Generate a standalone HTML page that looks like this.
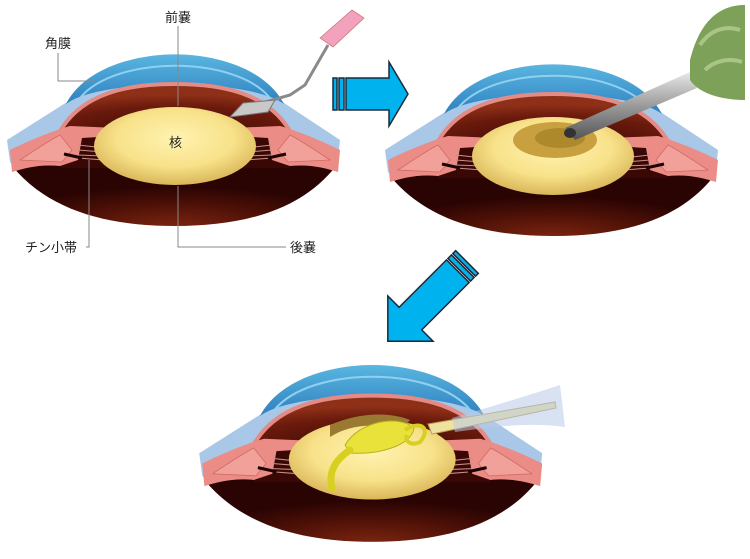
<!DOCTYPE html>
<html><head><meta charset="utf-8"><style>
html,body{margin:0;padding:0;background:#fff;}
svg{display:block;}
text{font-family:"Liberation Sans","Noto Sans CJK JP",sans-serif;fill:#222;}
</style></head><body>
<svg width="750" height="559" viewBox="0 0 750 559" xmlns="http://www.w3.org/2000/svg">
<defs>
<radialGradient id="lens" cx="0.5" cy="0.4" r="0.6">
<stop offset="0" stop-color="#fff3b0"/><stop offset="0.6" stop-color="#f8e28a"/><stop offset="1" stop-color="#d9b658"/>
</radialGradient>
<radialGradient id="fundus" cx="0.5" cy="1" r="0.55">
<stop offset="0" stop-color="#7a2410"/><stop offset="0.6" stop-color="#4a0f06"/><stop offset="1" stop-color="#2a0403"/>
</radialGradient>
<radialGradient id="cham" cx="0.5" cy="1" r="0.8">
<stop offset="0" stop-color="#3a0804"/><stop offset="0.7" stop-color="#6a1a0c"/><stop offset="1" stop-color="#8e3018"/>
</radialGradient>
<linearGradient id="corn" x1="0" y1="0" x2="0" y2="1">
<stop offset="0" stop-color="#5ab6e0"/><stop offset="1" stop-color="#2f80c0"/>
</linearGradient>
<linearGradient id="metal" x1="0" y1="0" x2="0" y2="1">
<stop offset="0" stop-color="#e8e8e8"/><stop offset="0.5" stop-color="#9a9a9a"/><stop offset="1" stop-color="#555"/>
</linearGradient>
<g id="eye">
  <path d="M7,140 L75,97 C115,40 235,40 275,97 L340,140 L338,160 C300,210 240,226 175,226 C110,226 50,210 10,162 Z" fill="#a9c7e6"/>
  <path d="M12,166 C60,150 290,150 336,166 C300,212 240,226 175,226 C110,226 50,212 12,166 Z" fill="url(#fundus)"/>
  <path d="M66,104 C100,38 250,38 284,104 C250,78 100,78 66,104 Z" fill="url(#corn)"/>
  <path d="M80,98 C115,55 235,55 270,98" fill="none" stroke="#8fd0f0" stroke-width="2"/>
  <path d="M58,135 C80,92 130,84 175,84 C220,84 270,92 292,135 Z" fill="url(#cham)" stroke="#e58b86" stroke-width="4"/>
  <path d="M60,132 L120,132 L120,168 L60,168 Z M290,132 L230,132 L230,168 L290,168 Z" fill="#3a0804"/>
  <path d="M10,150 C30,140 55,130 70,126 L118,128 L115,136 L82,138 L78,160 L60,166 C40,164 25,168 12,172 Z" fill="#eb8c86"/>
  <path d="M340,150 C320,140 295,130 280,126 L232,128 L235,136 L268,138 L272,160 L290,166 C310,164 325,168 338,172 Z" fill="#eb8c86"/>
  <path d="M20,160 C35,150 50,140 60,135 L72,150 L62,162 Z M330,160 C315,150 300,140 290,135 L278,150 L288,162 Z" fill="#f2a09a" stroke="#d06a66" stroke-width="0.8"/>
  <g stroke="#c9908a" stroke-width="1" fill="none">
    <path d="M78,145 L105,148 M78,150 L103,152 M78,155 L104,156 M78,158 L104,160"/>
    <path d="M272,145 L245,148 M272,150 L247,152 M272,155 L246,156 M272,158 L246,160"/>
  </g>
  <path d="M64,154 L82,158 M286,154 L268,158" stroke="#1a0302" stroke-width="3"/>
  <ellipse cx="175" cy="146" rx="81" ry="39" fill="url(#lens)"/>
</g>
</defs>

<use href="#eye"/>
<path d="M328,45 L305,85 L290,95 L245,108" fill="none" stroke="#8a8a8a" stroke-width="3"/>
<path d="M243,103 L275,100 L268,112 L230,117 Z" fill="#c8c8c8" stroke="#777" stroke-width="1"/>
<path d="M320,38 L352,10 L364,18 L333,47 Z" fill="#f3a2bd" stroke="#c77" stroke-width="0.8"/>
<g stroke="#888" stroke-width="1" fill="none">
  <path d="M178,26 L178,106"/>
  <path d="M58,53 L58,81 L95,81"/>
  <path d="M89,160 L89,247 L86,247"/>
  <path d="M178,186 L178,247 L286,247"/>
</g>
<text x="165" y="22" font-size="13">前嚢</text>
<text x="45" y="48" font-size="13">角膜</text>
<text x="169" y="147" font-size="13">核</text>
<text x="25" y="252" font-size="13">チン小帯</text>
<text x="290" y="252" font-size="13">後嚢</text>

<use href="#eye" transform="translate(378,10)"/>
<ellipse cx="555" cy="140" rx="42" ry="18" fill="#c9a040"/>
<ellipse cx="560" cy="138" rx="25" ry="10" fill="#9c7a1e" opacity="0.6"/>
<path d="M565,128 L690,72 L697,88 L575,140 Z" fill="url(#metal)"/>
<ellipse cx="570" cy="133" rx="6" ry="5" fill="#333"/>
<path d="M690,60 C700,20 720,5 745,5 L745,100 C725,100 700,95 690,80 Z" fill="#7ea15a"/>
<path d="M700,45 C710,30 725,25 740,30 M705,70 C715,60 730,58 742,62" stroke="#a9c585" stroke-width="4" fill="none"/>

<use href="#eye" transform="translate(192,309) scale(1.03)"/>
<path d="M330,425 C360,412 390,412 410,420 L400,432 C380,422 350,424 330,437 Z" fill="#9a7a30"/>
<path d="M345,445 C360,420 400,415 414,428 C412,445 380,455 350,453 Z" fill="#e8e23a" stroke="#b8b020" stroke-width="1"/>
<path d="M350,450 C335,460 328,472 332,488" fill="none" stroke="#d8d020" stroke-width="7" stroke-linecap="round"/>
<path d="M405,430 C420,420 432,428 420,442 C412,446 404,442 407,435" fill="none" stroke="#d8d020" stroke-width="4"/>
<path d="M428,424 L555,402 L556,408 L432,434 Z" fill="#efe2a0" stroke="#b9a04a" stroke-width="1"/>
<path d="M452,418 C490,407 530,395 560,385 L565,427 C530,422 490,427 455,432 Z" fill="#b8cbe8" opacity="0.55"/>

<g fill="#00b3ee" stroke="#1a2a3a" stroke-width="1.5">
  <rect x="333" y="78" width="4" height="32"/>
  <rect x="339" y="78" width="5" height="32"/>
  <path d="M346,78 L389,78 L389,62 L408,94 L389,126 L389,110 L346,110 Z"/>
</g>
<g fill="#00b3ee" stroke="#1a2a3a" stroke-width="1.5" transform="translate(467,262) rotate(135)">
  <rect x="0" y="-16" width="4" height="32"/>
  <rect x="6" y="-16" width="5" height="32"/>
  <path d="M13,-16 L80,-16 L80,-32 L112,0 L80,32 L80,16 L13,16 Z"/>
</g>
</svg>
</body></html>
